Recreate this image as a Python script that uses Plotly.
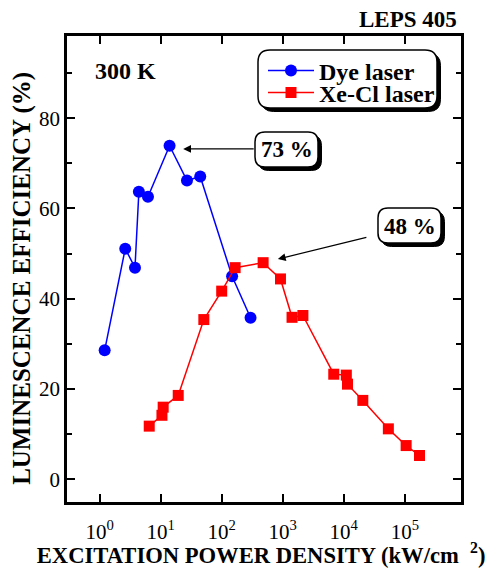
import plotly.graph_objects as go
import numpy as np

# ---- data ----
dye_x = [1.21, 2.63, 3.8, 4.4, 6.2, 14, 27, 44.5, 148, 297]
dye_y = [28.6, 51.1, 46.9, 63.7, 62.6, 73.9, 66.2, 67.1, 45.0, 35.8]
xecl_x = [6.5, 10.5, 11.0, 19.4, 51, 100, 166, 477, 918, 1420, 2140,
          6850, 11000, 11500, 20500, 53700, 105000, 174000]
xecl_y = [11.8, 14.2, 16.0, 18.6, 35.4, 41.7, 46.9, 48.0, 44.4, 35.9, 36.3,
          23.3, 23.1, 21.1, 17.5, 11.2, 7.5, 5.3]
x_tickvals = [1, 10, 100, 1000, 10000, 100000]
x_ticktext = ["10<sup>0</sup>", "10<sup>1</sup>", "10<sup>2</sup>",
              "10<sup>3</sup>", "10<sup>4</sup>", "10<sup>5</sup>"]
y_tickvals = [0, 20, 40, 60, 80]

# page geometry (the page body has an 8px margin)
OFF = 8
PAGE_W, PAGE_H = 497, 568
PL, PT, PR, PB = 67, 36, 461, 502          # plot area in page pixels
W, H = PAGE_W - OFF, PAGE_H - OFF
ML, MT = PL - OFF, PT - OFF
MR, MB = PAGE_W - PR, PAGE_H - PB
PW, PH = PR - PL, PB - PT
SERIF = "Liberation Serif, Times New Roman, serif"


def px2paper(px, py):
    return (px - PL) / PW, (PB - py) / PH


def rounded_box(x0, y0, x1, y1, r):
    def P(x, y):
        a, b = px2paper(x, y)
        return f"{a:.5f},{b:.5f}"
    d = (f"M {P(x0 + r, y0)} L {P(x1 - r, y0)} Q {P(x1, y0)} {P(x1, y0 + r)} "
         f"L {P(x1, y1 - r)} Q {P(x1, y1)} {P(x1 - r, y1)} "
         f"L {P(x0 + r, y1)} Q {P(x0, y1)} {P(x0, y1 - r)} "
         f"L {P(x0, y0 + r)} Q {P(x0, y0)} {P(x0 + r, y0)} Z")
    return d


def box_shapes(x0, y0, x1, y1, r, off=3.5):
    return [
        dict(type="path", xref="paper", yref="paper",
             path=rounded_box(x0 + off, y0 + off, x1 + off, y1 + off, r),
             fillcolor="black", line=dict(color="black", width=1), layer="above"),
        dict(type="path", xref="paper", yref="paper",
             path=rounded_box(x0, y0, x1, y1, r),
             fillcolor="white", line=dict(color="black", width=1.5), layer="above"),
    ]


fig = go.Figure()
fig.add_trace(go.Scatter(
    x=dye_x, y=dye_y, mode="lines+markers", name="Dye laser", legend="legend",
    line=dict(color="#0000ff", width=1.5),
    marker=dict(symbol="circle", size=12, color="#0000ff")))
fig.add_trace(go.Scatter(
    x=xecl_x, y=xecl_y, mode="lines+markers", name="Xe-Cl laser", legend="legend2",
    line=dict(color="#ff0000", width=1.5),
    marker=dict(symbol="square", size=11, color="#ff0000")))

shapes = []
shapes += box_shapes(258, 50, 437, 108, 12)
shapes += box_shapes(255, 132, 318, 167, 10)
shapes += box_shapes(378, 208, 441, 243, 10)

annotations = []
for txt, cx, cy in [("73 %", 286.5, 150), ("48 %", 409.5, 226)]:
    ax_, ay_ = px2paper(cx, cy)
    annotations.append(dict(text=txt, x=ax_, y=ay_, xref="paper", yref="paper",
                            showarrow=False, xanchor="center", yanchor="middle",
                            font=dict(family=SERIF, size=23, color="black", weight="bold")))
annotations.append(dict(x=np.log10(23.4), y=73.2, xref="x", yref="y", text="",
                        showarrow=True, ax=72, ay=0, arrowhead=2, arrowsize=1.3,
                        arrowwidth=1.2, arrowcolor="black"))
annotations.append(dict(x=np.log10(832), y=48.8, xref="x", yref="y", text="",
                        showarrow=True, ax=90, ay=-22, arrowhead=2, arrowsize=1.3,
                        arrowwidth=1.2, arrowcolor="black"))
a, b = px2paper(125, 71)
annotations.append(dict(text="300 K", x=a, y=b, xref="paper", yref="paper",
                        showarrow=False, xanchor="center", yanchor="middle",
                        font=dict(family=SERIF, size=24, color="black", weight="bold")))
a, b = px2paper(459, 20)
annotations.append(dict(text="LEPS 405", x=a, y=b, xref="paper", yref="paper",
                        showarrow=False, xanchor="right", yanchor="middle",
                        font=dict(family=SERIF, size=23, color="black", weight="bold")))

legfont = dict(family=SERIF, size=24, color="black", weight="bold")
lx, ly1 = px2paper(263, 71)
_, ly2 = px2paper(263, 93)
fig.update_layout(
    width=W, height=H,
    margin=dict(l=ML, r=MR, t=MT, b=MB, pad=0),
    paper_bgcolor="white", plot_bgcolor="white",
    showlegend=True,
    legend=dict(x=lx, y=ly1, xanchor="left", yanchor="middle",
                bgcolor="rgba(0,0,0,0)", borderwidth=0, font=legfont, itemwidth=46),
    legend2=dict(x=lx, y=ly2, xanchor="left", yanchor="middle",
                 bgcolor="rgba(0,0,0,0)", borderwidth=0, font=legfont, itemwidth=46),
    shapes=shapes,
    annotations=annotations,
    font=dict(family=SERIF, color="black"),
)
fig.update_xaxes(
    type="log", range=[-0.534, 5.92], automargin=False,
    tickvals=x_tickvals, ticktext=x_ticktext,
    ticks="inside", ticklen=8, tickwidth=1.5, tickcolor="black",
    showline=True, linewidth=2.5, linecolor="black", mirror="ticks",
    showgrid=False, zeroline=False, ticklabelstandoff=9,
    tickfont=dict(family=SERIF, size=21, color="black"),
    title=dict(text="EXCITATION POWER DENSITY (kW/cm&nbsp;&nbsp;<sup>2</sup>)&nbsp;",
               font=dict(family=SERIF, size=22.6, color="black", weight="bold"),
               standoff=8),
)
fig.update_yaxes(
    range=[-5, 98.2], automargin=False,
    tickvals=y_tickvals,
    ticks="inside", ticklen=8, tickwidth=1.5, tickcolor="black",
    minor=dict(tickvals=[10, 30, 50, 70, 90], ticks="inside", ticklen=5,
               tickwidth=1.5, tickcolor="black", showgrid=False),
    showline=True, linewidth=2.5, linecolor="black", mirror="ticks",
    showgrid=False, zeroline=False,
    tickfont=dict(family=SERIF, size=21, color="black"),
    title=dict(text="LUMINESCENCE EFFICIENCY (%)&nbsp;&nbsp;&nbsp;",
               font=dict(family=SERIF, size=25, color="black", weight="bold"),
               standoff=4),
)
fig.write_html("out.html")
